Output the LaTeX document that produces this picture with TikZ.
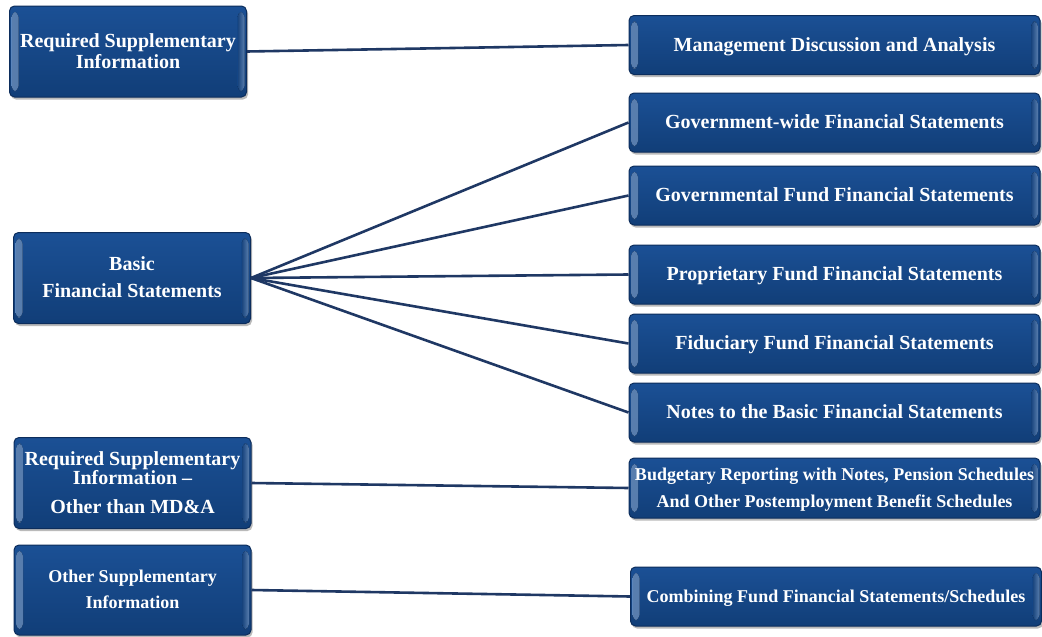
\documentclass[tikz,border=0pt]{standalone}
\usepackage{fontspec}
\setmainfont{Liberation Serif}
\usetikzlibrary{shadows}
\definecolor{boxtop}{HTML}{1B5095}
\definecolor{boxbot}{HTML}{113E78}
\definecolor{boxedge}{HTML}{0C2D5C}
\definecolor{bevel}{HTML}{6F9BD4}
\definecolor{linkblue}{HTML}{1F3864}
\tikzset{
  panel/.style={rounded corners=5pt, draw=boxedge, line width=1pt,
    top color=boxtop, bottom color=boxbot,
    drop shadow={shadow xshift=1.5pt, shadow yshift=-2.5pt, opacity=0.45, fill=black!60},
    text=white, font=\bfseries\fontsize{20}{21}\selectfont, align=center, inner sep=0pt,
    text depth=1pt,
    path picture={
      \fill[left color=bevel, right color=boxtop, opacity=0.8]
        ([xshift=2pt,yshift=-6pt]path picture bounding box.north west)
        rectangle ([xshift=9pt,yshift=6pt]path picture bounding box.south west);
      \fill[right color=bevel, left color=boxtop, opacity=0.8]
        ([xshift=-9pt,yshift=-6pt]path picture bounding box.north east)
        rectangle ([xshift=-2pt,yshift=6pt]path picture bounding box.south east);
    }},
  smalltext/.style={font=\bfseries\fontsize{18}{20}\selectfont},
  leftpanel/.style={panel, minimum width=237pt, minimum height=91pt},
  rightpanel/.style={panel, minimum width=411pt, minimum height=59pt},
  link/.style={draw=linkblue, line width=2.6pt}
}
\begin{document}
\begin{tikzpicture}[x=1pt, y=-1pt]
  \useasboundingbox[fill=white] (0,0) rectangle (1042,637);

  % left column
  \node[leftpanel] (rsi) at (128,51.5) {Required Supplementary\\Information};
  \node[leftpanel] (bfs) at (132,278) {Basic\\[6pt]Financial Statements};
  \node[leftpanel] (rsio) at (132.5,483) {Required Supplementary\\[-2pt]Information --\\[8pt]Other than MD\&A};
  \node[leftpanel, smalltext, minimum height=90pt] (osi) at (132.5,590) {Other Supplementary\\[6pt]Information};

  % right column
  \node[rightpanel] (mda) at (834.5,45) {Management Discussion and Analysis};
  \node[rightpanel] (gw) at (834.5,122.5) {Government-wide Financial Statements};
  \node[rightpanel] (gf) at (834.5,195.5) {Governmental Fund Financial Statements};
  \node[rightpanel] (pf) at (834.5,274.5) {Proprietary Fund Financial Statements};
  \node[rightpanel] (ff) at (834.5,343.5) {Fiduciary Fund Financial Statements};
  \node[rightpanel] (nt) at (834.5,412.5) {Notes to the Basic Financial Statements};
  \node[rightpanel, smalltext, minimum height=60pt] (bud) at (834.5,488) {Budgetary Reporting with Notes, Pension Schedules\\[7pt]And Other Postemployment Benefit Schedules};
  \node[rightpanel, smalltext] (cmb) at (836,596.5) {Combining Fund Financial Statements/Schedules};

  % connectors
  \draw[link] (rsi.east) -- (mda.west);
  \foreach \t in {gw,gf,pf,ff,nt}
    \draw[link] (bfs.east) -- (\t.west);
  \draw[link] (rsio.east) -- (bud.west);
  \draw[link] (osi.east) -- (cmb.west);
\end{tikzpicture}
\end{document}
